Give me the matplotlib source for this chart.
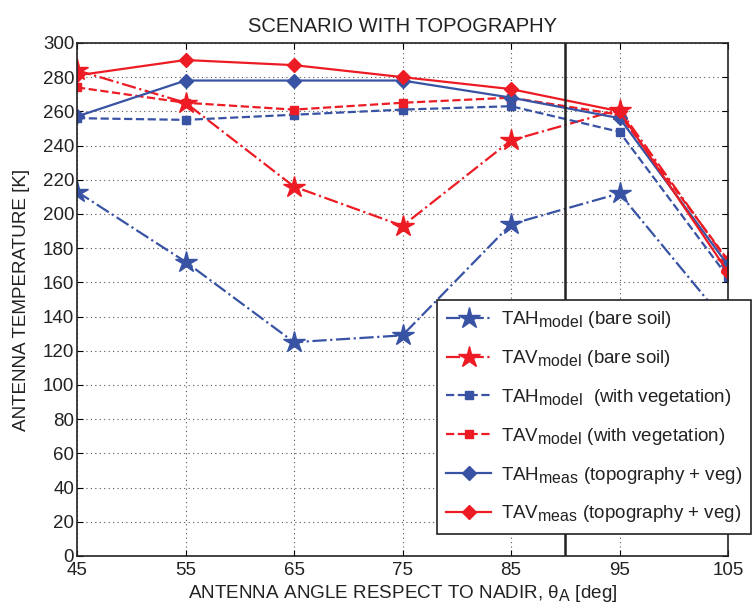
import matplotlib
matplotlib.use("Agg")
import matplotlib.pyplot as plt
import matplotlib._mathtext as mathtext_impl

plt.rcParams['font.family'] = ['Liberation Sans', 'DejaVu Sans']
plt.rcParams['mathtext.fontset'] = 'custom'
plt.rcParams['mathtext.rm'] = 'Liberation Sans'
plt.rcParams['mathtext.it'] = 'Liberation Sans:italic'
plt.rcParams['text.color'] = '#222222'
plt.rcParams['axes.labelcolor'] = '#222222'
plt.rcParams['xtick.labelcolor'] = '#222222'
plt.rcParams['ytick.labelcolor'] = '#222222'
# larger subscripts (model/meas, theta_A)
mathtext_impl.SHRINK_FACTOR = 0.85

# antenna angle respect to nadir [deg]
angles = [45, 55, 65, 75, 85, 95, 105]

tah_bare = [213, 172, 125, 129, 194, 212, 135]
tav_bare = [284, 265, 216, 193, 243, 261, 172]
tah_veg = [256, 255, 258, 261, 263, 248, 163]
tav_veg = [274, 265, 261, 265, 268, 258, 173]
tah_meas = [257, 278, 278, 278, 268, 256, 170]
tav_meas = [281, 290, 287, 280, 273, 260, 166]

nadir_limit = 90

BLUE = '#3853a4'
RED = '#ed1c24'

fig = plt.figure(figsize=(7.52, 6.13), dpi=100)
ax = fig.add_axes([0.1024, 0.093, 0.8657, 0.837])

ax.plot(angles, tah_bare, '-.', color=BLUE, lw=1.6, marker='*', ms=16,
        label=r'TAH$_{\rm model}$ (bare soil)')
ax.plot(angles, tav_bare, '-.', color=RED, lw=1.6, marker='*', ms=16,
        label=r'TAV$_{\rm model}$ (bare soil)')
ax.plot(angles, tah_veg, '--', color=BLUE, lw=1.6, marker='s', ms=6,
        label=r'TAH$_{\rm model}$  (with vegetation)')
ax.plot(angles, tav_veg, '--', color=RED, lw=1.6, marker='s', ms=6,
        label=r'TAV$_{\rm model}$ (with vegetation)')
ax.plot(angles, tah_meas, '-', color=BLUE, lw=1.6, marker='D', ms=7.5,
        label=r'TAH$_{\rm meas}$ (topography + veg)')
ax.plot(angles, tav_meas, '-', color=RED, lw=1.6, marker='D', ms=7.5,
        label=r'TAV$_{\rm meas}$ (topography + veg)')

ax.axvline(nadir_limit, color='#222222', lw=1.8)

ax.set_xlim(45, 105)
ax.set_ylim(0, 300)
ax.set_xticks(range(45, 106, 10))
ax.set_yticks(range(0, 301, 20))
ax.tick_params(direction='in', top=True, right=True, labelsize=13.5, length=4, pad=2)
ax.tick_params(axis='x', pad=4.5)
ax.grid(True, linestyle=(0, (1, 3)), color='#555555', lw=0.8)
for s in ax.spines.values():
    s.set_linewidth(1.2)
    s.set_color('#222222')

ax.set_xlabel(r'ANTENNA ANGLE RESPECT TO NADIR, θ$_{\rm A}$ [deg]', fontsize=13.6, labelpad=3)
ax.set_ylabel('ANTENNA TEMPERATURE [K]', fontsize=13.6, labelpad=9)
ax.set_title('SCENARIO WITH TOPOGRAPHY', fontsize=14.5, pad=8)

leg = fig.legend(loc='upper left', bbox_to_anchor=(0.581, 0.5106),
                 bbox_transform=fig.transFigure, fontsize=13.5, numpoints=1,
                 handlelength=2.4, handletextpad=0.5, labelspacing=0.95,
                 fancybox=False, framealpha=1, edgecolor='#222222',
                 borderaxespad=0, borderpad=0.5)
leg.get_frame().set_linewidth(1.2)

fig.savefig('out.png', dpi=100)
